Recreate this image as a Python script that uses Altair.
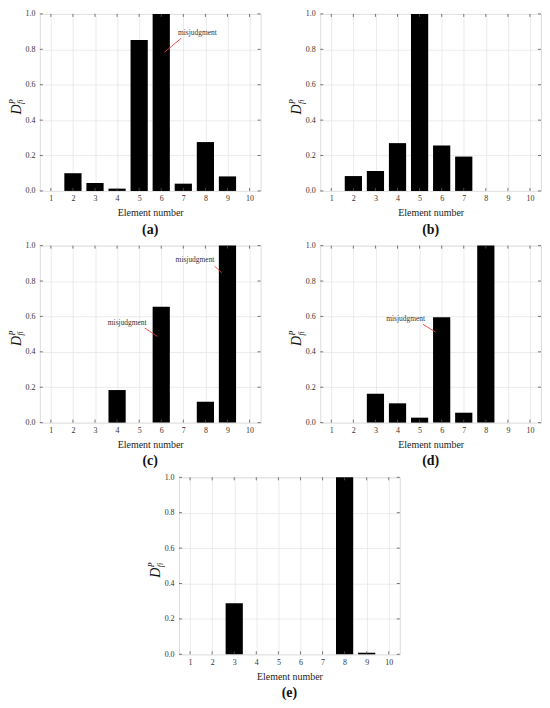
import altair as alt
import pandas as pd

# ---------------- data ----------------
elements = [1, 2, 3, 4, 5, 6, 7, 8, 9, 10]
values_a = [0.0, 0.100, 0.045, 0.013, 0.853, 1.0, 0.041, 0.276, 0.082, 0.0]
values_b = [0.0, 0.084, 0.112, 0.270, 1.0, 0.257, 0.194, 0.0, 0.0, 0.0]
values_c = [0.0, 0.0, 0.0, 0.184, 0.0, 0.655, 0.0, 0.118, 1.0, 0.0]
values_d = [0.0, 0.0, 0.163, 0.109, 0.028, 0.596, 0.056, 1.0, 0.0, 0.0]
values_e = [0.0, 0.0, 0.289, 0.0, 0.0, 0.0, 0.0, 1.0, 0.009, 0.0]
y_ticks = [0.0, 0.2, 0.4, 0.6, 0.8, 1.0]
panel_names = ["(a)", "(b)", "(c)", "(d)", "(e)"]
note_label = "misjudgment"

# annotation text anchors (data units) and red leader lines
note_a_x, note_a_y = [7.64], [0.892]
line_a_x1, line_a_y1, line_a_x2, line_a_y2 = [6.90], [0.862], [6.14], [0.783]
note_c_x, note_c_y = [7.53, 4.46], [0.921, 0.565]
line_c_x1, line_c_y1, line_c_x2, line_c_y2 = [8.41, 5.26], [0.885, 0.534], [8.74, 5.82], [0.846, 0.487]
note_d_x, note_d_y = [4.37], [0.584]
line_d_x1, line_d_y1, line_d_x2, line_d_y2 = [5.15], [0.556], [5.73], [0.511]

# ---------------- style ----------------
W, H = 222, 178
FONT = "Liberation Serif"
FRAME = "#555555"
GRID = "#e6e6e6"
HALF = 0.39  # half bar width in element units

AXIS_X = alt.Axis(
    values=elements, title="Element number", grid=True,
    gridColor=GRID, gridWidth=0.8, ticks=False, domain=False,
    labelFont=FONT, labelFontSize=8, labelColor="#333333",
    labelPadding=4, labelFlush=False, titleFont=FONT,
    titleFontSize=10, titleFontWeight="normal",
    titleColor="#222222", titlePadding=5,
)
AXIS_Y = alt.Axis(
    values=y_ticks, format=".1f", title="", grid=True,
    gridColor=GRID, gridWidth=0.8, ticks=False, domain=False,
    labelFont=FONT, labelFontSize=8, labelColor="#333333",
    labelPadding=5, labelFlush=False,
)


def panel(vals, name, notes=None, lines=None):
    xs = alt.Scale(domain=[0.5, 10.5], nice=False, zero=False)
    ys = alt.Scale(domain=[0, 1], nice=False, zero=True)

    bars_df = pd.DataFrame({"element": elements, "value": vals})
    bars = (
        alt.Chart(bars_df)
        .transform_calculate(
            x0=f"datum.element - {HALF}", x1=f"datum.element + {HALF}", base="0"
        )
        .mark_bar(color="black")
        .encode(
            x=alt.X("x0:Q", scale=xs, axis=AXIS_X),
            x2="x1:Q",
            y=alt.Y("value:Q", scale=ys, axis=AXIS_Y),
            y2="base:Q",
        )
    )

    xt = pd.DataFrame({"t": elements})
    yt = pd.DataFrame({"t": y_ticks})
    tick = dict(color=FRAME, strokeWidth=0.8)
    xt_top = alt.Chart(xt).mark_rule(**tick).encode(
        x=alt.X("t:Q", scale=xs, axis=AXIS_X), y=alt.value(0), y2=alt.value(3))
    xt_bot = alt.Chart(xt).mark_rule(**tick).encode(
        x=alt.X("t:Q", scale=xs, axis=AXIS_X), y=alt.value(H), y2=alt.value(H - 3))
    yt_left = alt.Chart(yt).mark_rule(**tick).encode(
        y=alt.Y("t:Q", scale=ys, axis=AXIS_Y), x=alt.value(0), x2=alt.value(3))
    yt_right = alt.Chart(yt).mark_rule(**tick).encode(
        y=alt.Y("t:Q", scale=ys, axis=AXIS_Y), x=alt.value(W), x2=alt.value(W - 3))

    one = pd.DataFrame({"k": [0]})
    t_D = alt.Chart(one).mark_text(
        text="D", font=FONT, fontSize=14, fontStyle="italic", angle=270,
        align="center", baseline="middle", color="#111111",
    ).encode(x=alt.value(-23), y=alt.value(96))
    t_P = alt.Chart(one).mark_text(
        text="P", font=FONT, fontSize=8, fontStyle="italic", angle=270,
        align="left", baseline="middle", color="#111111",
    ).encode(x=alt.value(-27), y=alt.value(90.5))
    t_fi = alt.Chart(one).mark_text(
        text="fi", font=FONT, fontSize=8, fontStyle="italic", angle=270,
        align="left", baseline="middle", color="#111111",
    ).encode(x=alt.value(-18.5), y=alt.value(90.5))
    t_name = alt.Chart(one).mark_text(
        text=name, font=FONT, fontSize=14, fontWeight="bold",
        align="center", baseline="middle", color="#111111",
    ).encode(x=alt.value(W / 2), y=alt.value(217))

    layers = [bars, xt_top, xt_bot, yt_left, yt_right, t_D, t_P, t_fi, t_name]

    if notes is not None:
        nx, ny = notes
        ndf = pd.DataFrame({"x": nx, "y": ny})
        layers.append(
            alt.Chart(ndf).mark_text(
                text=note_label, font=FONT, fontSize=7.5, color="#333333",
                align="center", baseline="middle",
            ).encode(x=alt.X("x:Q", scale=xs, axis=AXIS_X),
                     y=alt.Y("y:Q", scale=ys, axis=AXIS_Y))
        )
    if lines is not None:
        x1, y1, x2, y2 = lines
        ldf = pd.DataFrame({"x1": x1, "y1": y1, "x2": x2, "y2": y2})
        layers.append(
            alt.Chart(ldf).mark_rule(color="#e8413c", strokeWidth=0.9).encode(
                x=alt.X("x1:Q", scale=xs, axis=AXIS_X),
                y=alt.Y("y1:Q", scale=ys, axis=AXIS_Y),
                x2="x2:Q", y2="y2:Q",
            )
        )

    return alt.layer(*layers).properties(width=W, height=H)


pa = panel(values_a, panel_names[0], (note_a_x, note_a_y),
           (line_a_x1, line_a_y1, line_a_x2, line_a_y2))
pb = panel(values_b, panel_names[1])
pc = panel(values_c, panel_names[2], (note_c_x, note_c_y),
           (line_c_x1, line_c_y1, line_c_x2, line_c_y2))
pd_ = panel(values_d, panel_names[3], (note_d_x, note_d_y),
            (line_d_x1, line_d_y1, line_d_x2, line_d_y2))
pe = panel(values_e, panel_names[4])

spacer = (
    alt.Chart(pd.DataFrame({"k": [0]}))
    .mark_point(size=0, opacity=0)
    .encode(x=alt.value(0), y=alt.value(0))
    .properties(width=107, height=1, view=alt.ViewBackground(stroke="transparent"))
)

row1 = alt.hconcat(pa, pb, spacing=27)
row2 = alt.hconcat(pc, pd_, spacing=27)
row3 = alt.hconcat(spacer, pe, spacing=0)

chart = (
    alt.vconcat(row1, row2, row3, spacing=3)
    .properties(padding={"left": 0, "top": -1, "right": 0, "bottom": 0})
    .configure_view(stroke=FRAME, strokeWidth=1)
    .configure(background="white")
)

chart.save("out.html", embed_options={"renderer": "svg", "actions": False})
